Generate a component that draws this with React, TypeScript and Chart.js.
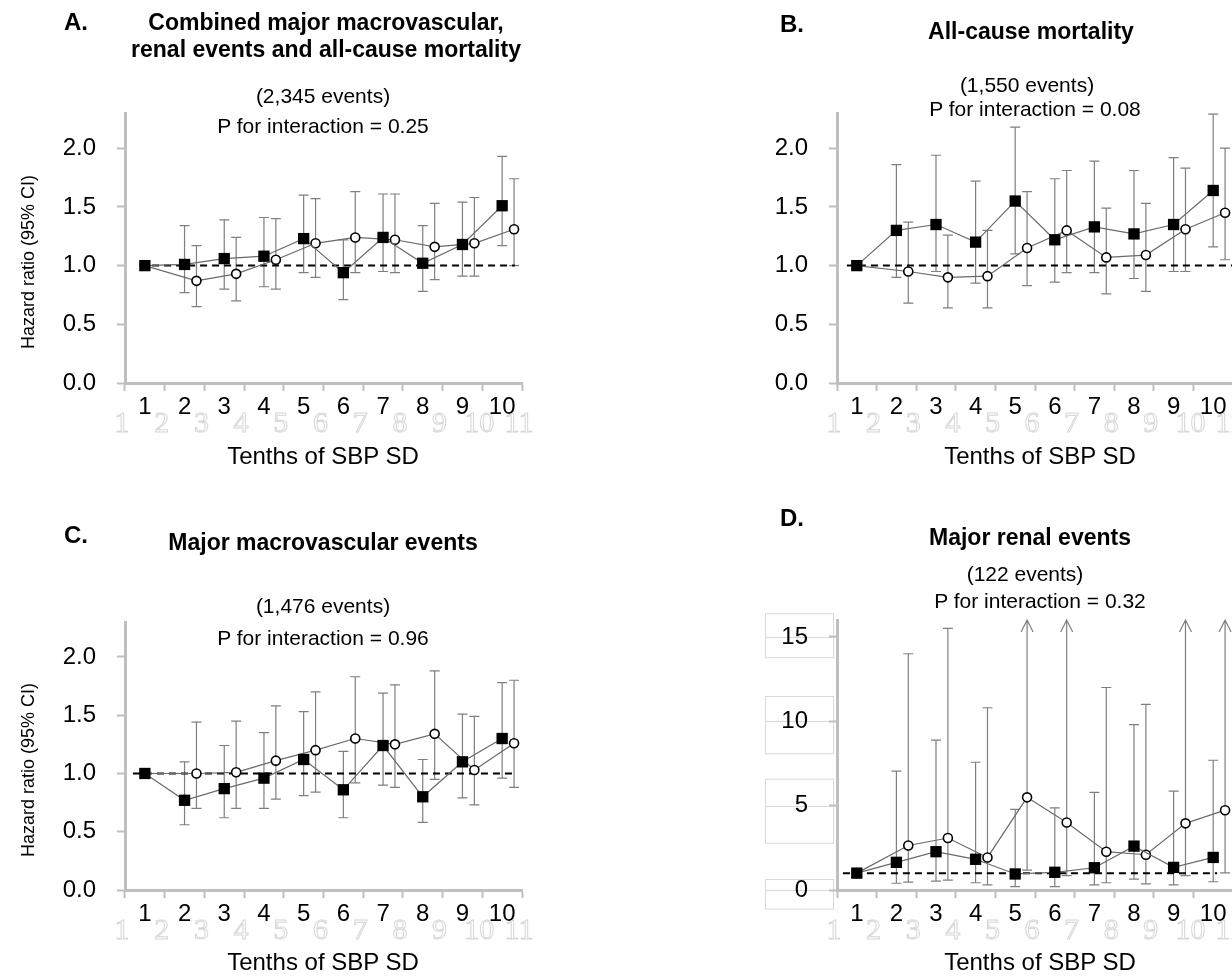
import React, { useEffect, useRef } from "react";
import { Chart, registerables } from "chart.js";

Chart.register(...registerables);

// ---------- data ----------
const tenths = [1, 2, 3, 4, 5, 6, 7, 8, 9, 10];
const ghostLabels = ["1", "2", "3", "4", "5", "6", "7", "8", "9", "10", "11"];
const hrTicks = [0, 0.5, 1, 1.5, 2];
const renalTicks = [0, 5, 10, 15];

// Panel A: combined outcome
const aSquare = [1.0, 1.01, 1.06, 1.08, 1.23, 0.94, 1.24, 1.02, 1.18, 1.51];
const aSquareLo = [null, 0.77, 0.8, 0.82, 0.94, 0.71, 0.95, 0.78, 0.91, 1.17];
const aSquareHi = [null, 1.34, 1.39, 1.41, 1.6, 1.22, 1.61, 1.34, 1.54, 1.93];
const aCircle = [1.0, 0.87, 0.93, 1.05, 1.19, 1.24, 1.22, 1.16, 1.19, 1.31];
const aCircleLo = [null, 0.65, 0.7, 0.8, 0.9, 0.94, 0.94, 0.88, 0.91, 1.0];
const aCircleHi = [null, 1.17, 1.24, 1.4, 1.57, 1.63, 1.61, 1.53, 1.58, 1.74];

// Panel B: all-cause mortality
const bSquare = [1.0, 1.3, 1.35, 1.2, 1.55, 1.22, 1.33, 1.27, 1.35, 1.64];
const bSquareLo = [null, 0.9, 0.95, 0.85, 1.1, 0.86, 0.94, 0.89, 0.95, 1.16];
const bSquareHi = [null, 1.86, 1.94, 1.72, 2.18, 1.74, 1.89, 1.81, 1.92, 2.29];
const bCircle = [1.0, 0.95, 0.9, 0.91, 1.15, 1.3, 1.07, 1.09, 1.31, 1.45];
const bCircleLo = [null, 0.68, 0.64, 0.64, 0.83, 0.94, 0.76, 0.78, 0.95, 1.05];
const bCircleHi = [null, 1.37, 1.26, 1.3, 1.63, 1.81, 1.49, 1.53, 1.83, 2.0];

// Panel C: major macrovascular events
const cSquare = [1.0, 0.77, 0.87, 0.96, 1.12, 0.86, 1.24, 0.8, 1.1, 1.3];
const cSquareLo = [null, 0.56, 0.62, 0.7, 0.81, 0.62, 0.9, 0.58, 0.79, 0.96];
const cSquareHi = [null, 1.1, 1.24, 1.35, 1.53, 1.19, 1.69, 1.12, 1.51, 1.78];
const cCircle = [1.0, 1.0, 1.01, 1.11, 1.2, 1.3, 1.25, 1.34, 1.03, 1.26];
const cCircleLo = [null, 0.7, 0.7, 0.78, 0.84, 0.92, 0.88, 0.95, 0.73, 0.88];
const cCircleHi = [null, 1.44, 1.45, 1.58, 1.7, 1.83, 1.76, 1.88, 1.49, 1.8];

// Panel D: major renal events (upper limits of 30 lie off the axis: drawn as arrows)
const dSquare = [1.0, 1.64, 2.27, 1.82, 0.95, 1.05, 1.32, 2.6, 1.34, 1.93];
const dSquareLo = [null, 0.4, 0.53, 0.43, 0.2, 0.2, 0.3, 0.65, 0.3, 0.49];
const dSquareHi = [null, 7.04, 8.88, 7.57, 4.78, 4.87, 5.78, 9.8, 5.86, 7.69];
const dCircle = [1.0, 2.64, 3.08, 1.93, 5.49, 4.0, 2.27, 2.09, 3.95, 4.73];
const dCircleLo = [null, 0.47, 0.59, 0.3, 1.18, 0.85, 0.43, 0.36, 0.85, 1.02];
const dCircleHi = [null, 14.0, 15.5, 10.8, 30, 30, 12.0, 11.0, 30, 30];

// ---------- styles ----------
const SANS = '"Liberation Sans", Arial, sans-serif';
const SERIF = '"Liberation Serif", "Times New Roman", serif';
const AXIS_GRAY = "#bfbfbf";
const BAR_GRAY = "#7f7f7f";
const LINE_GRAY = "#6a6a6a";
const CIRCLE_SHIFT = 0.3;
const TICK_SIZE = 24;
const Y_W = 80;
const X_H = 40;

type Panel = {
  id: string;
  left: number;
  top: number;
  width: number;
  height: number;
  area: { left: number; right: number; top: number; bottom: number };
  yMax: number;
  yTicks: number[];
  decimals: number;
  sq: number[];
  sqLo: (number | null)[];
  sqHi: (number | null)[];
  ci: number[];
  ciLo: (number | null)[];
  ciHi: (number | null)[];
  ref: [number, number];
  boxes?: [number, number][];
};

const panels: Panel[] = [
  {
    id: "A", left: 0, top: 0, width: 616, height: 488,
    area: { left: 125, right: 522, top: 113, bottom: 383 },
    yMax: 2.3, yTicks: hrTicks, decimals: 1,
    sq: aSquare, sqLo: aSquareLo, sqHi: aSquareHi,
    ci: aCircle, ciLo: aCircleLo, ciHi: aCircleHi,
    ref: [0.88, 10.32],
  },
  {
    id: "B", left: 616, top: 0, width: 640, height: 488,
    area: { left: 221, right: 617, top: 113, bottom: 383 },
    yMax: 2.3, yTicks: hrTicks, decimals: 1,
    sq: bSquare, sqLo: bSquareLo, sqHi: bSquareHi,
    ci: bCircle, ciLo: bCircleLo, ciHi: bCircleHi,
    ref: [0.75, 10.5],
  },
  {
    id: "C", left: 0, top: 488, width: 616, height: 488,
    area: { left: 125, right: 522, top: 134, bottom: 402 },
    yMax: 2.3, yTicks: hrTicks, decimals: 1,
    sq: cSquare, sqLo: cSquareLo, sqHi: cSquareHi,
    ci: cCircle, ciLo: cCircleLo, ciHi: cCircleHi,
    ref: [0.7, 10.37],
  },
  {
    id: "D", left: 616, top: 488, width: 640, height: 488,
    area: { left: 221, right: 617, top: 132, bottom: 402 },
    yMax: 16, yTicks: renalTicks, decimals: 0,
    sq: dSquare, sqLo: dSquareLo, sqHi: dSquareHi,
    ci: dCircle, ciLo: dCircleLo, ciHi: dCircleHi,
    ref: [0.65, 10.1],
    boxes: [[13.8, 16.4], [8.1, 11.5], [2.8, 6.6], [-1.1, 0.65]],
  },
];

// ---------- plugins ----------
const errorBarPlugin = {
  id: "errorBars",
  beforeDatasetsDraw(chart: any, _args: any, opts: any) {
    const { ctx, chartArea } = chart;
    const x = chart.scales.x;
    const y = chart.scales.y;
    ctx.save();
    chart.data.datasets.forEach((ds: any) => {
      ds.data.forEach((pt: any, i: number) => {
        const lo = ds.lo[i];
        const hi = ds.hi[i];
        if (lo == null || hi == null) return;
        const px = x.getPixelForValue(pt.x);
        const yLo = y.getPixelForValue(lo);
        const over = hi > y.max;
        const yHi = over ? chartArea.top : y.getPixelForValue(hi);
        ctx.strokeStyle = BAR_GRAY;
        ctx.lineWidth = 1.2;
        ctx.beginPath();
        ctx.moveTo(px, yLo);
        ctx.lineTo(px, yHi);
        ctx.moveTo(px - 5, yLo);
        ctx.lineTo(px + 5, yLo);
        if (over) {
          ctx.moveTo(px - 6, yHi + 12);
          ctx.lineTo(px, yHi);
          ctx.lineTo(px + 6, yHi + 12);
        } else {
          ctx.moveTo(px - 5, yHi);
          ctx.lineTo(px + 5, yHi);
        }
        ctx.stroke();
      });
    });
    // reference line at HR = 1
    const ref = opts.ref as [number, number];
    const yr = y.getPixelForValue(1);
    ctx.strokeStyle = "#000";
    ctx.lineWidth = 2;
    ctx.setLineDash([7, 5]);
    ctx.beginPath();
    ctx.moveTo(x.getPixelForValue(ref[0]), yr);
    ctx.lineTo(x.getPixelForValue(ref[1]), yr);
    ctx.stroke();
    ctx.restore();
  },
};

const ghostPlugin = {
  id: "ghostLabels",
  afterDraw(chart: any) {
    const { ctx, chartArea } = chart;
    const x = chart.scales.x;
    ctx.save();
    ctx.font = `30px ${SERIF}`;
    ctx.textAlign = "center";
    ctx.textBaseline = "middle";
    ctx.strokeStyle = "#d6d6d6";
    ctx.lineWidth = 1;
    ghostLabels.forEach((lab, k) => {
      const px = x.getPixelForValue(0.5 + k) - 3;
      ctx.strokeText(lab, px, chartArea.bottom + 41);
    });
    ctx.restore();
  },
};

const boxPlugin = {
  id: "leftBoxes",
  beforeDraw(chart: any, _args: any, opts: any) {
    const boxes = opts.boxes as [number, number][] | undefined;
    if (!boxes) return;
    const { ctx, chartArea } = chart;
    const y = chart.scales.y;
    ctx.save();
    ctx.strokeStyle = "#d9d9d9";
    ctx.lineWidth = 1;
    const x0 = chartArea.left - 72;
    const x1 = chartArea.left - 4;
    boxes.forEach(([a, b]) => {
      const ya = y.getPixelForValue(a);
      const yb = y.getPixelForValue(b);
      ctx.strokeRect(x0 + 0.5, Math.min(ya, yb) + 0.5, x1 - x0, Math.abs(ya - yb));
    });
    y.ticks.forEach((t: any) => {
      const py = Math.round(y.getPixelForValue(t.value)) + 0.5;
      ctx.beginPath();
      ctx.moveTo(x0, py);
      ctx.lineTo(chartArea.left, py);
      ctx.stroke();
    });
    ctx.restore();
  },
};

// ---------- components ----------
function PanelChart({ p }: { p: Panel }) {
  const ref = useRef<HTMLCanvasElement | null>(null);
  useEffect(() => {
    if (!ref.current) return;
    const chart = new Chart(ref.current, {
      type: "line",
      data: {
        datasets: [
          {
            data: tenths.map((t, i) => ({ x: t, y: p.sq[i] })),
            lo: p.sqLo,
            hi: p.sqHi,
            borderColor: LINE_GRAY,
            borderWidth: 1.2,
            pointStyle: "rect",
            pointRadius: 8,
            pointBackgroundColor: "#000",
            pointBorderColor: "#000",
            pointBorderWidth: 0,
            fill: false,
            tension: 0,
          } as any,
          {
            data: tenths.map((t, i) => ({ x: i === 0 ? t : t + CIRCLE_SHIFT, y: p.ci[i] })),
            lo: p.ciLo,
            hi: p.ciHi,
            borderColor: LINE_GRAY,
            borderWidth: 1.2,
            pointStyle: "circle",
            pointRadius: 4.5,
            pointBackgroundColor: "#fff",
            pointBorderColor: "#000",
            pointBorderWidth: 1.6,
            fill: false,
            tension: 0,
          } as any,
        ],
      },
      options: {
        responsive: false,
        animation: false,
        events: [],
        layout: {
          padding: {
            left: p.area.left - Y_W,
            right: p.width - p.area.right,
            top: p.area.top,
            bottom: p.height - p.area.bottom - X_H,
          },
        },
        plugins: {
          legend: { display: false },
          tooltip: { enabled: false },
          title: { display: false },
          errorBars: { ref: p.ref },
          leftBoxes: { boxes: p.boxes },
        } as any,
        scales: {
          x: {
            type: "linear",
            min: 0.5,
            max: 10.5,
            afterBuildTicks: (s: any) => {
              s.ticks = tenths.map((v) => ({ value: v }));
            },
            afterFit: (s: any) => {
              s.height = X_H;
            },
            grid: {
              display: true,
              offset: true,
              drawOnChartArea: false,
              drawTicks: true,
              tickLength: 8,
              tickColor: AXIS_GRAY,
              tickWidth: 2,
            },
            border: { display: true, color: AXIS_GRAY, width: 3 },
            ticks: {
              color: "#000",
              font: { family: SANS, size: TICK_SIZE },
              padding: 2,
              maxRotation: 0,
              autoSkip: false,
              callback: (v: any) => String(v),
            },
          },
          y: {
            type: "linear",
            min: 0,
            max: p.yMax,
            afterBuildTicks: (s: any) => {
              s.ticks = p.yTicks.map((v) => ({ value: v }));
            },
            afterFit: (s: any) => {
              s.width = Y_W;
            },
            grid: {
              display: true,
              drawOnChartArea: false,
              drawTicks: true,
              tickLength: 8,
              tickColor: AXIS_GRAY,
              tickWidth: 2,
            },
            border: { display: true, color: AXIS_GRAY, width: 3 },
            ticks: {
              color: "#000",
              font: { family: SANS, size: TICK_SIZE },
              padding: 21,
              callback: (v: any) => Number(v).toFixed(p.decimals),
            },
          },
        },
      } as any,
      plugins: [boxPlugin, errorBarPlugin, ghostPlugin],
    });
    return () => chart.destroy();
  }, [p]);
  return (
    <canvas
      ref={ref}
      width={p.width}
      height={p.height}
      style={{ position: "absolute", left: p.left, top: p.top, width: p.width, height: p.height }}
    />
  );
}

type TextProps = { x: number; y: number; text: string; size: number; bold?: boolean; rotate?: boolean };

function Txt({ x, y, text, size, bold, rotate }: TextProps) {
  return (
    <div
      style={{
        position: "absolute",
        left: x,
        top: y,
        transform: `translate(-50%, -50%)${rotate ? " rotate(-90deg)" : ""}`,
        whiteSpace: "nowrap",
        fontFamily: SANS,
        fontSize: size,
        fontWeight: bold ? 700 : 400,
        color: "#000",
        lineHeight: 1,
      }}
    >
      {text}
    </div>
  );
}

const TITLE = 23;
const NOTE = 21;
const AXT = 24;

const texts: TextProps[] = [
  { x: 76, y: 22, text: "A.", size: 24, bold: true },
  { x: 326, y: 22, text: "Combined major macrovascular,", size: TITLE, bold: true },
  { x: 326, y: 49, text: "renal events and all-cause mortality", size: TITLE, bold: true },
  { x: 323, y: 95, text: "(2,345 events)", size: NOTE },
  { x: 323, y: 125, text: "P for interaction = 0.25", size: NOTE },
  { x: 28, y: 262, text: "Hazard ratio (95% CI)", size: 18, rotate: true },
  { x: 323, y: 456, text: "Tenths of SBP SD", size: AXT },

  { x: 792, y: 24, text: "B.", size: 24, bold: true },
  { x: 1031, y: 31, text: "All-cause mortality", size: TITLE, bold: true },
  { x: 1027, y: 84, text: "(1,550 events)", size: NOTE },
  { x: 1035, y: 108, text: "P for interaction = 0.08", size: NOTE },
  { x: 1040, y: 456, text: "Tenths of SBP SD", size: AXT },

  { x: 76, y: 535, text: "C.", size: 24, bold: true },
  { x: 323, y: 542, text: "Major macrovascular events", size: TITLE, bold: true },
  { x: 323, y: 605, text: "(1,476 events)", size: NOTE },
  { x: 323, y: 637, text: "P for interaction = 0.96", size: NOTE },
  { x: 28, y: 770, text: "Hazard ratio (95% CI)", size: 18, rotate: true },
  { x: 323, y: 962, text: "Tenths of SBP SD", size: AXT },

  { x: 792, y: 518, text: "D.", size: 24, bold: true },
  { x: 1030, y: 537, text: "Major renal events", size: TITLE, bold: true },
  { x: 1025, y: 573, text: "(122 events)", size: NOTE },
  { x: 1040, y: 600, text: "P for interaction = 0.32", size: NOTE },
  { x: 1040, y: 962, text: "Tenths of SBP SD", size: AXT },
];

export default function App() {
  return (
    <div
      style={{
        position: "absolute",
        left: 0,
        top: 0,
        width: 1232,
        height: 976,
        overflow: "hidden",
        background: "#fff",
      }}
    >
      {panels.map((p) => (
        <PanelChart key={p.id} p={p} />
      ))}
      {texts.map((t, i) => (
        <Txt key={i} {...t} />
      ))}
    </div>
  );
}
